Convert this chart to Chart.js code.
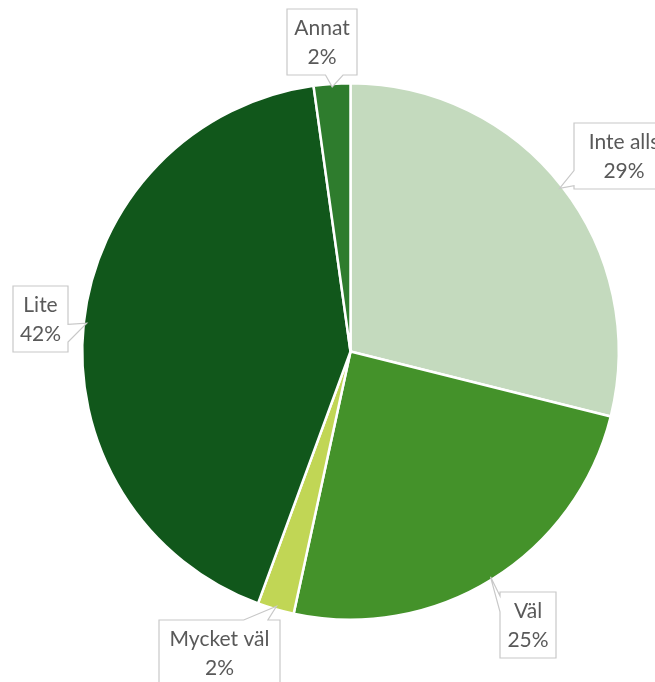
<!DOCTYPE html>
<html>
<head>
<meta charset="utf-8">
<script src="https://cdn.jsdelivr.net/npm/chart.js@4/dist/chart.umd.min.js"></script>
<style>
  html, body { margin: 0; padding: 0; background: #ffffff; }
  #wrap { width: 655px; height: 682px; position: relative; }
</style>
</head>
<body>
<div id="wrap"><canvas id="c" width="655" height="682"></canvas></div>
<script>
// ---- data (shares; labels show rounded %) ----
const categories = ['Inte alls', 'Väl', 'Mycket väl', 'Lite', 'Annat'];
const percentValues = [28.9, 24.5, 2.2, 42.2, 2.2];
const sliceColors = ['#c4dabe', '#44922a', '#c1d655', '#11571b', '#2e7c2d'];

// callout box layout (pixels): box rect, side the wedge leaves from, wedge base fractions
const calloutLayout = [
  { x: 574, y: 123, w: 100, h: 66, side: 'left',   b0: 0.72, b1: 0.95 },
  { x: 500, y: 592, w: 56,  h: 66, side: 'left',   b0: 0.06, b1: 0.30 },
  { x: 159, y: 620, w: 121, h: 72, side: 'top',    b0: 0.70, b1: 0.90 },
  { x: 13,  y: 286, w: 55,  h: 66, side: 'right',  b0: 0.58, b1: 0.85 },
  { x: 287, y: 9,   w: 70,  h: 66, side: 'bottom', b0: 0.55, b1: 0.80 }
];

function calloutPath(ctx, b, tip) {
  const { x, y, w, h, side, b0, b1 } = b;
  ctx.beginPath();
  ctx.moveTo(x, y);
  if (side === 'top') { ctx.lineTo(x + w * b0, y); ctx.lineTo(tip.x, tip.y); ctx.lineTo(x + w * b1, y); }
  ctx.lineTo(x + w, y);
  if (side === 'right') { ctx.lineTo(x + w, y + h * b0); ctx.lineTo(tip.x, tip.y); ctx.lineTo(x + w, y + h * b1); }
  ctx.lineTo(x + w, y + h);
  if (side === 'bottom') { ctx.lineTo(x + w * b1, y + h); ctx.lineTo(tip.x, tip.y); ctx.lineTo(x + w * b0, y + h); }
  ctx.lineTo(x, y + h);
  if (side === 'left') { ctx.lineTo(x, y + h * b1); ctx.lineTo(tip.x, tip.y); ctx.lineTo(x, y + h * b0); }
  ctx.closePath();
}

const calloutPlugin = {
  id: 'callouts',
  afterDatasetsDraw(chart) {
    const ctx = chart.ctx;
    const meta = chart.getDatasetMeta(0);
    const data = chart.data.datasets[0].data;
    const total = data.reduce((a, v) => a + v, 0);
    meta.data.forEach((arc, i) => {
      const p = arc.getProps(['x', 'y', 'startAngle', 'endAngle', 'outerRadius'], true);
      const mid = (p.startAngle + p.endAngle) / 2;
      const r = p.outerRadius - 3;
      const tip = { x: p.x + Math.cos(mid) * r, y: p.y + Math.sin(mid) * r };
      const b = calloutLayout[i];
      ctx.save();
      calloutPath(ctx, b, tip);
      ctx.fillStyle = '#ffffff';
      ctx.fill();
      ctx.strokeStyle = '#c8c8c8';
      ctx.lineWidth = 1.2;
      ctx.stroke();
      ctx.fillStyle = '#595959';
      ctx.font = '21px Lato, "Open Sans", sans-serif';
      ctx.textAlign = 'center';
      ctx.textBaseline = 'middle';
      const cx = b.x + b.w / 2;
      const pct = Math.round(data[i] / total * 100 + 1e-9) + '%';
      ctx.fillText(chart.data.labels[i], cx, b.y + 19);
      ctx.fillText(pct, cx, b.y + 48);
      ctx.restore();
    });
  }
};

new Chart(document.getElementById('c'), {
  type: 'pie',
  data: {
    labels: categories,
    datasets: [{
      data: percentValues,
      backgroundColor: sliceColors,
      borderColor: '#ffffff',
      borderWidth: 2.5
    }]
  },
  options: {
    responsive: false,
    animation: false,
    layout: { padding: { top: 82, bottom: 61, left: 81, right: 35 } },
    plugins: {
      legend: { display: false },
      tooltip: { enabled: false },
      title: { display: false }
    }
  },
  plugins: [calloutPlugin]
});
</script>
</body>
</html>
